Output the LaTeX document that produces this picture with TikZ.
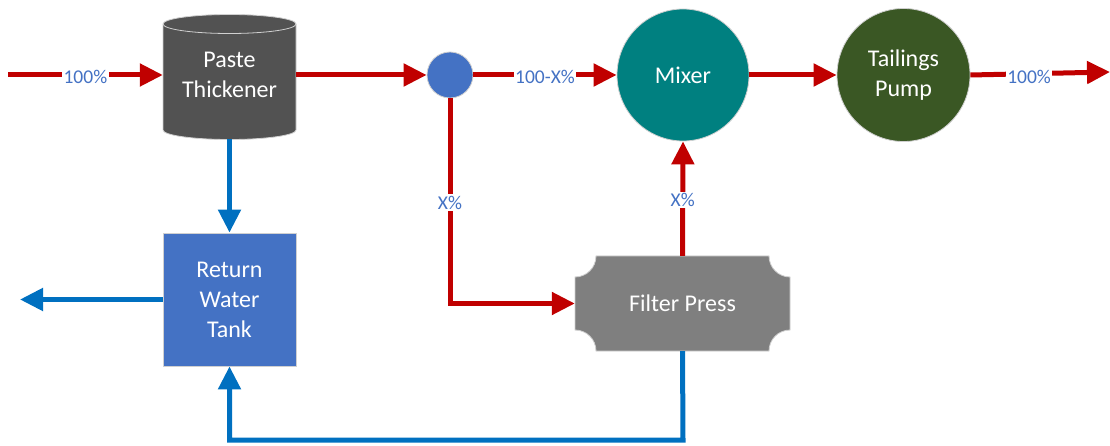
\documentclass[tikz,border=0pt]{standalone}
\usepackage{fontspec}
\setmainfont{Carlito}
\usetikzlibrary{arrows.meta,calc}
\definecolor{flowred}{HTML}{C00000}
\definecolor{flowblue}{HTML}{0070C0}
\definecolor{lblblue}{HTML}{4472C4}
\definecolor{thickgray}{HTML}{525252}
\definecolor{pressgray}{HTML}{7F7F7F}
\definecolor{tankblue}{HTML}{4472C4}
\definecolor{mixteal}{HTML}{008080}
\definecolor{pumpgreen}{HTML}{3A5724}
\definecolor{edgegray}{HTML}{D0D0D0}
\tikzset{
  redflow/.style={draw=flowred, line width=5pt, -{Triangle[length=23pt,width=22pt]}},
  blueflow/.style={draw=flowblue, line width=5pt, -{Triangle[length=23pt,width=22pt]}},
  lbl/.style={fill=white, text=lblblue, inner sep=1.5pt, yshift=-1.5pt, font=\fontsize{19.5}{21}\selectfont},
  unittext/.style={text=white, align=center, font=\fontsize{24}{30}\selectfont},
  roundunit/.style={circle, draw=edgegray, line width=0.8pt, unittext},
}
\begin{document}
\begin{tikzpicture}[x=1pt,y=1pt]
\useasboundingbox (0,0) rectangle (1110,-446);
% Paste Thickener (cylinder)
\fill[thickgray] (163,-24) -- (163,-130) arc[start angle=180,end angle=360,x radius=66.5pt,y radius=9.5pt]
  -- (296,-24) arc[start angle=0,end angle=180,x radius=66.5pt,y radius=9.5pt] -- cycle;
\draw[edgegray, line width=0.8pt] (163,-24) -- (163,-130) arc[start angle=180,end angle=360,x radius=66.5pt,y radius=9.5pt]
  -- (296,-24) arc[start angle=0,end angle=180,x radius=66.5pt,y radius=9.5pt];
\draw[edgegray, line width=0.8pt] (163,-24) arc[start angle=180,end angle=360,x radius=66.5pt,y radius=9.5pt];
\node[unittext, minimum width=133pt, minimum height=128pt] (thick) at (229.5,-75) {Paste\\Thickener};
% Return Water Tank
\node[unittext, fill=tankblue, draw=edgegray, line width=0.8pt, minimum width=133pt, minimum height=133pt] (tank) at (229.5,-299.5) {Return\\Water\\Tank};
% splitter circle
\node[circle, fill=lblblue, draw=edgegray, line width=0.8pt, minimum size=46pt, inner sep=0pt] (sc) at (450,-75) {};
% Mixer and pump
\node[roundunit, fill=mixteal, minimum size=132pt] (mix) at (683,-75) {Mixer};
\node[roundunit, fill=pumpgreen, minimum size=133pt] (pump) at (903.5,-75) {\raisebox{0pt}[\height][\depth]{Tailings}\\Pump};
% Filter Press (plaque)
\fill[pressgray, draw=edgegray, line width=0.8pt] (596,-256) -- (769,-256)
  arc[start angle=180,end angle=270,radius=21pt] -- (790,-330)
  arc[start angle=90,end angle=180,radius=21pt] -- (596,-351)
  arc[start angle=0,end angle=90,radius=21pt] -- (575,-277)
  arc[start angle=270,end angle=360,radius=21pt] -- cycle;
\node[unittext, minimum width=215pt, minimum height=95pt] (fp) at (682.5,-303.5) {Filter Press};
% free ends
\coordinate (in) at (8,-75);
\coordinate (out) at (1110,-72);
\coordinate (water) at (20,-299.5);
\coordinate (bottom) at (683,-440);
% red flows
\draw[redflow] (in) -- node[lbl]{100\%} (thick.west);
\draw[redflow] (thick.east) -- (sc.west);
\draw[redflow] (sc.east) -- node[lbl]{100-X\%} (mix.west);
\draw[redflow] (mix.east) -- (pump.west);
\draw[redflow] (pump.east) -- node[lbl, pos=0.42, yshift=-2pt]{100\%} (out);
\draw[redflow] (sc.south) |- node[lbl, pos=0.25]{X\%} (fp.west);
\draw[redflow] (fp.north) -- node[lbl]{X\%} (mix.south);
% blue flows
\draw[blueflow] (thick.south) -- (tank.north);
\draw[blueflow] (tank.west) -- (water);
\draw[blueflow] (fp.south) -- (bottom) -| (tank.south);
\end{tikzpicture}
\end{document}
